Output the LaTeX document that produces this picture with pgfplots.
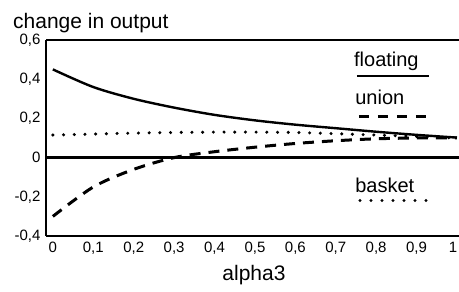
\documentclass[border=0pt]{standalone}
\usepackage{pgfplots}
\pgfplotsset{compat=1.18}
\usepackage{fontspec}
\setmainfont{Liberation Sans}
\begin{document}
\begin{tikzpicture}
\begin{axis}[
  scale only axis, width=413bp, height=196bp,
  at={(46bp,56bp)}, anchor=south west,
  xmin=-0.017, xmax=1.005, ymin=-0.4, ymax=0.6,
  axis x line*=box, axis y line*=left,
  axis line style={line width=2.6bp, -},
  xtick={0,0.1,0.2,0.3,0.4,0.5,0.6,0.7,0.8,0.9,1},
  xticklabels={0,{0,1},{0,2},{0,3},{0,4},{0,5},{0,6},{0,7},{0,8},{0,9},{\kern-8bp 1}},
  ytick={-0.4,-0.2,0,0.2,0.4,0.6},
  major tick length=0pt,
  /pgf/number format/assume math mode=true,
  /pgf/number format/use comma,
  /pgf/number format/fixed,
  tick label style={font=\fontsize{15bp}{17bp}\selectfont},
  xticklabel style={yshift=-3bp},
  yticklabel style={xshift=-2bp},
  clip=true,
]
% zero line
\addplot[black, line width=2.8bp] coordinates {(-0.017,0) (1.005,0)};
% floating
\addplot[black, line width=2.4bp, smooth] coordinates {
(0,0.45) (0.1,0.36) (0.2,0.30) (0.3,0.255) (0.4,0.218) (0.5,0.19) (0.6,0.168) (0.7,0.15) (0.8,0.132) (0.9,0.116) (1,0.102)};
% union
\addplot[black, line width=3bp, smooth, dash pattern=on 11bp off 8bp] coordinates {
(0,-0.30) (0.1,-0.15) (0.2,-0.06) (0.3,0.0) (0.4,0.03) (0.5,0.053) (0.6,0.072) (0.7,0.086) (0.8,0.096) (0.9,0.1) (1,0.1)};
% basket
\addplot[black, line width=3.4bp, smooth, line cap=round, dash pattern=on 0bp off 10.7bp] coordinates {
(0,0.115) (0.1,0.12) (0.2,0.125) (0.3,0.128) (0.4,0.13) (0.5,0.13) (0.6,0.128) (0.7,0.122) (0.8,0.115) (0.9,0.108) (1,0.1)};
% legend samples
\addplot[black, line width=2.2bp] coordinates {(0.752,0.418) (0.931,0.418)};
\addplot[black, line width=3bp, dash pattern=on 10bp off 9bp] coordinates {(0.757,0.209) (0.931,0.209)};
\addplot[black, line width=3.2bp, line cap=round, dash pattern=on 0bp off 11bp] coordinates {(0.76,-0.219) (0.925,-0.219)};
\node[anchor=base west, inner sep=0, font=\fontsize{20bp}{22bp}\selectfont] at (axis cs:0.745,0.464) {floating};
\node[anchor=base west, inner sep=0, font=\fontsize{20bp}{22bp}\selectfont] at (axis cs:0.748,0.27) {union};
\node[anchor=base west, inner sep=0, font=\fontsize{20bp}{22bp}\selectfont] at (axis cs:0.748,-0.179) {basket};
\end{axis}
\node[anchor=north west, inner sep=0, font=\fontsize{21bp}{23bp}\selectfont] at (13bp,279bp) {change in output};
\node[anchor=north, inner sep=0, font=\fontsize{21bp}{23bp}\selectfont] at (254bp,27bp) {alpha3};
\pgfresetboundingbox
\useasboundingbox (0,0) rectangle (459bp,292bp);
\end{tikzpicture}
\end{document}
